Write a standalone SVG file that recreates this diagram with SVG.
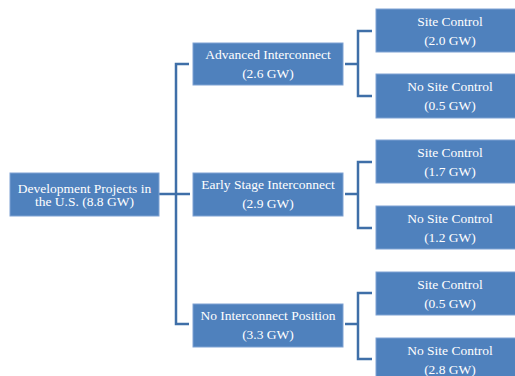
<svg xmlns="http://www.w3.org/2000/svg" width="515" height="376" viewBox="0 0 515 376">
<style>
.box{fill:#4f81bd;stroke:#7fa2d3;stroke-width:1}
.t{font-family:"Liberation Serif","Times New Roman",serif;font-size:13.5px;fill:#ffffff;text-anchor:middle}
.c{fill:none;stroke:#3f6fa8;stroke-width:2.5}
</style>
<rect width="515" height="376" fill="#ffffff"/>
<g id="connectors">
<path class="c" d="M189,64 H176 V324 H189"/>
<path class="c" d="M159,194 H190"/>
<path class="c" d="M345,64 H358"/>
<path class="c" d="M372,31 H358 V96 H372"/>
<path class="c" d="M345,194 H358"/>
<path class="c" d="M372,162 H358 V228 H372"/>
<path class="c" d="M345,324 H358"/>
<path class="c" d="M372,293 H358 V359 H372"/>
</g>
<g id="root">
<rect class="box" x="10" y="173" width="149" height="43"/>
<text class="t" x="84.5" y="192.5">Development Projects in</text>
<text class="t" x="84.5" y="206">the U.S. (8.8 GW)</text>
</g>
<g id="advanced">
<rect class="box" x="193" y="43" width="150" height="42"/>
<text class="t" x="268" y="58.5">Advanced Interconnect</text>
<text class="t" x="268" y="77.5">(2.6 GW)</text>
</g>
<g id="early">
<rect class="box" x="193" y="173" width="150" height="43"/>
<text class="t" x="268" y="189">Early Stage Interconnect</text>
<text class="t" x="268" y="208">(2.9 GW)</text>
</g>
<g id="none">
<rect class="box" x="193" y="304" width="150" height="43"/>
<text class="t" x="268" y="320">No Interconnect Position</text>
<text class="t" x="268" y="339">(3.3 GW)</text>
</g>
<g id="adv-site">
<rect class="box" x="376" y="9" width="150" height="43"/>
<text class="t" x="450" y="26">Site Control</text>
<text class="t" x="450" y="45">(2.0 GW)</text>
</g>
<g id="adv-nosite">
<rect class="box" x="376" y="74" width="150" height="44"/>
<text class="t" x="450" y="91">No Site Control</text>
<text class="t" x="450" y="110">(0.5 GW)</text>
</g>
<g id="early-site">
<rect class="box" x="376" y="140" width="150" height="43"/>
<text class="t" x="450" y="157">Site Control</text>
<text class="t" x="450" y="176">(1.7 GW)</text>
</g>
<g id="early-nosite">
<rect class="box" x="376" y="206" width="150" height="43"/>
<text class="t" x="450" y="223">No Site Control</text>
<text class="t" x="450" y="242">(1.2 GW)</text>
</g>
<g id="none-site">
<rect class="box" x="376" y="272" width="150" height="43"/>
<text class="t" x="450" y="289">Site Control</text>
<text class="t" x="450" y="308">(0.5 GW)</text>
</g>
<g id="none-nosite">
<rect class="box" x="376" y="338" width="150" height="43"/>
<text class="t" x="450" y="355">No Site Control</text>
<text class="t" x="450" y="374">(2.8 GW)</text>
</g>
</svg>
